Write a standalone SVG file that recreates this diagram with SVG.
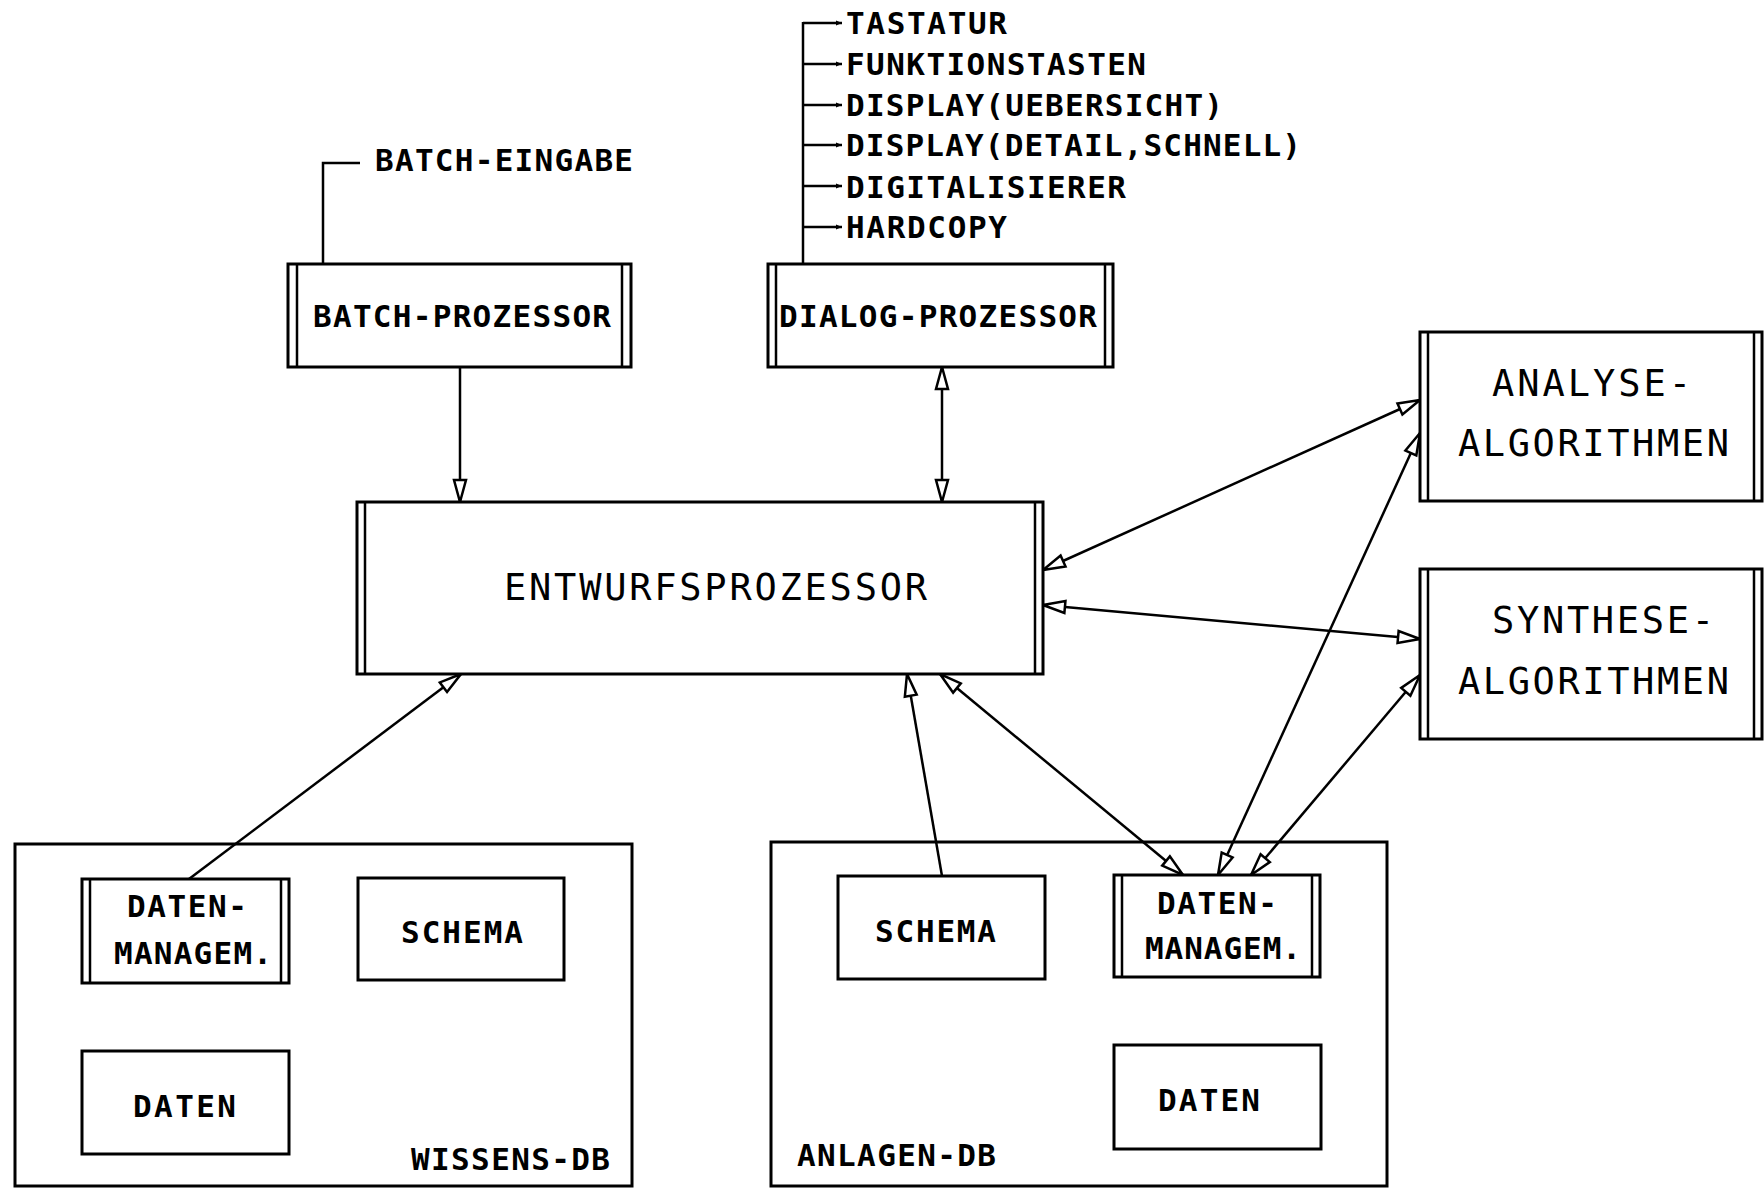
<svg xmlns="http://www.w3.org/2000/svg" width="1764" height="1189" viewBox="0 0 1764 1189">
  <style>
    .box { fill: #fff; stroke: #000; stroke-width: 3; }
    .frame { fill: none; stroke: #000; stroke-width: 3; }
    .inner { stroke: #000; stroke-width: 2.5; fill: none; }
    .line { stroke: #000; stroke-width: 2.5; fill: none; }
    .arr { marker-start: url(#ah); marker-end: url(#ah); }
    .one { marker-end: url(#ah); }
    .sm { font-family: "DejaVu Sans Mono", "Liberation Mono", monospace; font-weight: bold; font-size: 31px; fill: #000; }
    .lg { font-family: "DejaVu Sans Mono", "Liberation Mono", monospace; font-size: 37px; fill: #000; }
  </style>
  <defs>
    <marker id="ah" viewBox="-26 -9 28 18" refX="0" refY="0" markerWidth="28" markerHeight="18" orient="auto-start-reverse" markerUnits="userSpaceOnUse">
      <path d="M0,0 L-22,-6 L-22,6 Z" fill="#fff" stroke="#000" stroke-width="2.5"/>
    </marker>
    <marker id="tick" viewBox="-8 -4 10 8" refX="0" refY="0" markerWidth="10" markerHeight="8" orient="auto" markerUnits="userSpaceOnUse">
      <path d="M0,0 L-6,-2.5 L-6,2.5 Z" fill="#000"/>
    </marker>
  </defs>
  <rect width="1764" height="1189" fill="#fff"/>

  <!-- database containers (outline only) -->
  <g id="wissens-db">
    <rect class="frame" x="15" y="844" width="617" height="342"/>
    <text class="sm" x="411" y="1170" textLength="199">WISSENS-DB</text>
  </g>

  <g id="anlagen-db">
    <rect class="frame" x="771" y="842" width="616" height="344"/>
    <text class="sm" x="797" y="1166" textLength="199">ANLAGEN-DB</text>
  </g>

  <!-- connectors -->
  <g id="connectors">
    <!-- batch input feed -->
    <polyline class="line" points="323,264 323,163 360,163"/>
    <!-- dialog devices trunk -->
    <line class="line" x1="803" y1="264" x2="803" y2="22"/>
    <line class="line" x1="803" y1="23" x2="842" y2="23" marker-end="url(#tick)"/>
    <line class="line" x1="803" y1="64" x2="842" y2="64" marker-end="url(#tick)"/>
    <line class="line" x1="803" y1="105" x2="842" y2="105" marker-end="url(#tick)"/>
    <line class="line" x1="803" y1="145" x2="842" y2="145" marker-end="url(#tick)"/>
    <line class="line" x1="803" y1="186" x2="842" y2="186" marker-end="url(#tick)"/>
    <line class="line" x1="803" y1="227" x2="842" y2="227" marker-end="url(#tick)"/>

    <line class="line one" x1="460" y1="367" x2="460" y2="502"/>
    <line class="line arr" x1="942" y1="367" x2="942" y2="502"/>
    <line class="line arr" x1="1043" y1="570" x2="1420" y2="400"/>
    <line class="line arr" x1="1043" y1="605" x2="1420" y2="639"/>
    <line class="line one" x1="189" y1="879" x2="461" y2="674"/>
    <line class="line one" x1="942" y1="876" x2="907" y2="674"/>
    <line class="line arr" x1="940" y1="674" x2="1183" y2="875"/>
    <line class="line arr" x1="1218" y1="875" x2="1420" y2="433"/>
    <line class="line arr" x1="1251" y1="875" x2="1420" y2="675"/>
  </g>

  <!-- dialog device list -->
  <g id="dialog-devices">
    <text class="sm" x="846" y="34" textLength="161">TASTATUR</text>
    <text class="sm" x="846" y="75" textLength="300">FUNKTIONSTASTEN</text>
    <text class="sm" x="846" y="116" textLength="377">DISPLAY(UEBERSICHT)</text>
    <text class="sm" x="846" y="156" textLength="455">DISPLAY(DETAIL,SCHNELL)</text>
    <text class="sm" x="846" y="198" textLength="280">DIGITALISIERER</text>
    <text class="sm" x="846" y="238" textLength="161">HARDCOPY</text>
  </g>

  <g id="batch-eingabe">
    <text class="sm" x="375" y="171" textLength="258">BATCH-EINGABE</text>
  </g>

  <g id="batch-prozessor">
    <rect class="box" x="288" y="264" width="343" height="103"/>
    <path class="inner" d="M297,264 V367 M622,264 V367"/>
    <text class="sm" x="313" y="327" textLength="298">BATCH-PROZESSOR</text>
  </g>

  <g id="dialog-prozessor">
    <rect class="box" x="768" y="264" width="345" height="103"/>
    <path class="inner" d="M776,264 V367 M1105,264 V367"/>
    <text class="sm" x="779" y="327" textLength="318">DIALOG-PROZESSOR</text>
  </g>

  <g id="entwurfsprozessor">
    <rect class="box" x="357" y="502" width="686" height="172"/>
    <path class="inner" d="M365,502 V674 M1035,502 V674"/>
    <text class="lg" x="504" y="600" textLength="423">ENTWURFSPROZESSOR</text>
  </g>

  <g id="analyse-algorithmen">
    <rect class="box" x="1420" y="332" width="342" height="169"/>
    <path class="inner" d="M1428,332 V501 M1754,332 V501"/>
    <text class="lg" x="1492" y="396" textLength="199">ANALYSE-</text>
    <text class="lg" x="1458" y="456" textLength="271">ALGORITHMEN</text>
  </g>

  <g id="synthese-algorithmen">
    <rect class="box" x="1420" y="569" width="342" height="170"/>
    <path class="inner" d="M1428,569 V739 M1754,569 V739"/>
    <text class="lg" x="1492" y="633" textLength="222">SYNTHESE-</text>
    <text class="lg" x="1458" y="694" textLength="271">ALGORITHMEN</text>
  </g>

  <g id="wissens-datenmanagement">
    <rect class="box" x="82" y="879" width="207" height="104"/>
    <path class="inner" d="M90,879 V983 M281,879 V983"/>
    <text class="sm" x="127" y="917" textLength="120">DATEN-</text>
    <text class="sm" x="114" y="964" textLength="158">MANAGEM.</text>
  </g>

  <g id="wissens-schema">
    <rect class="box" x="358" y="878" width="206" height="102"/>
    <text class="sm" x="401" y="943" textLength="122">SCHEMA</text>
  </g>

  <g id="wissens-daten">
    <rect class="box" x="82" y="1051" width="207" height="103"/>
    <text class="sm" x="133" y="1117" textLength="103">DATEN</text>
  </g>

  <g id="anlagen-schema">
    <rect class="box" x="838" y="876" width="207" height="103"/>
    <text class="sm" x="875" y="942" textLength="121">SCHEMA</text>
  </g>

  <g id="anlagen-datenmanagement">
    <rect class="box" x="1114" y="875" width="206" height="102"/>
    <path class="inner" d="M1122,875 V977 M1312,875 V977"/>
    <text class="sm" x="1157" y="914" textLength="120">DATEN-</text>
    <text class="sm" x="1145" y="959" textLength="156">MANAGEM.</text>
  </g>

  <g id="anlagen-daten">
    <rect class="box" x="1114" y="1045" width="207" height="104"/>
    <text class="sm" x="1158" y="1111" textLength="102">DATEN</text>
  </g>
</svg>
